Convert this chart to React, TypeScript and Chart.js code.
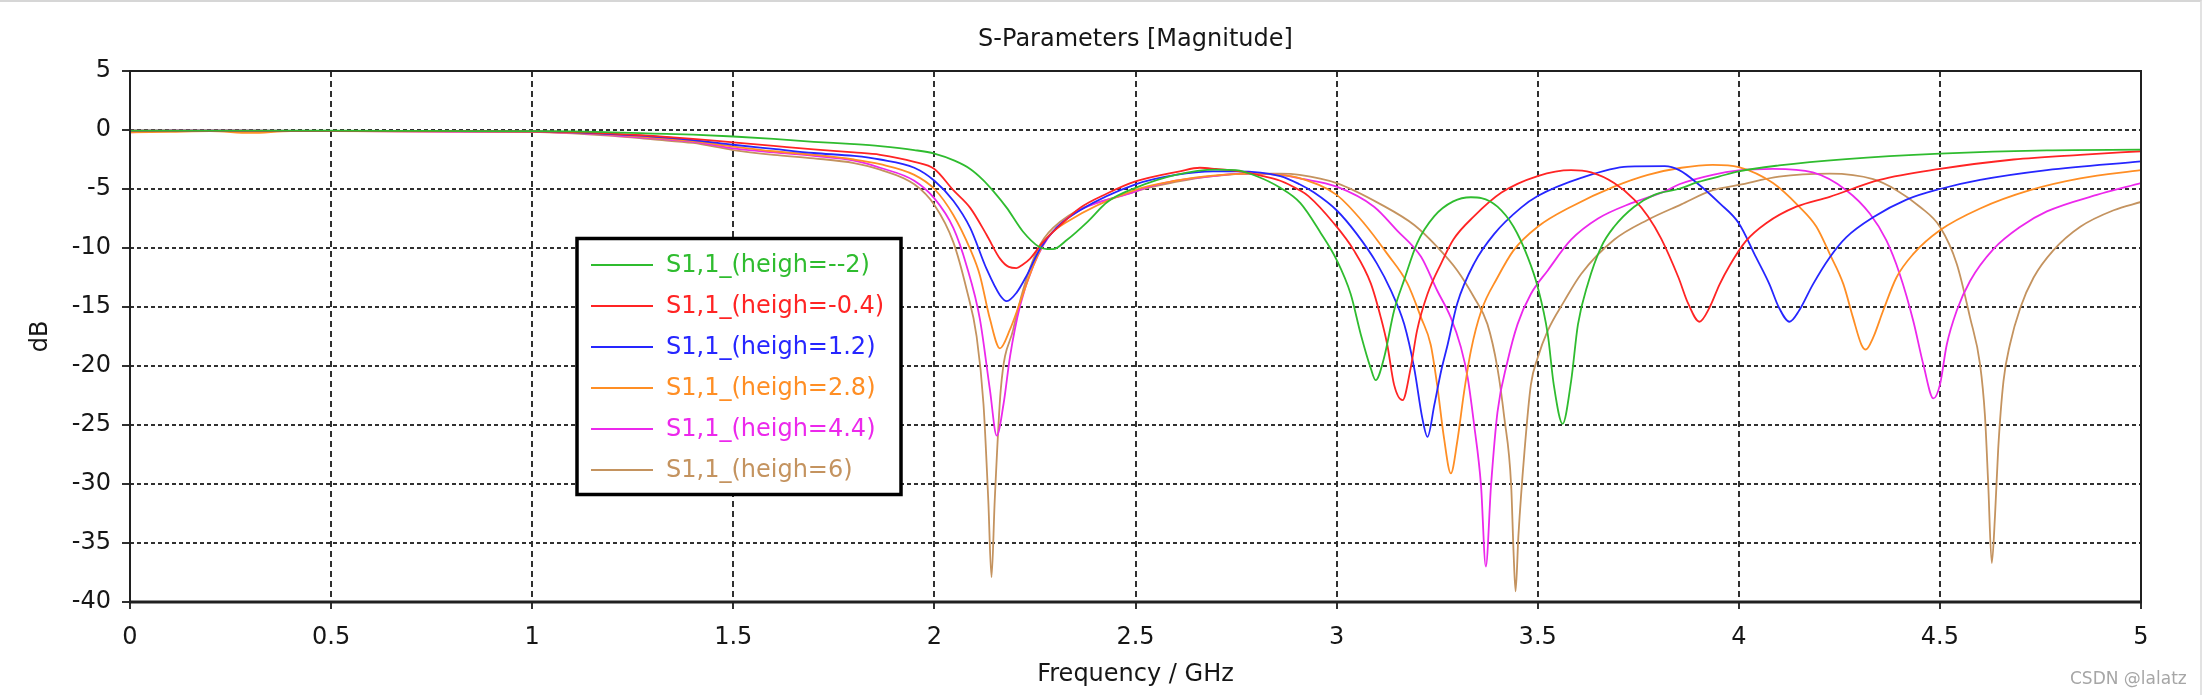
import { useEffect, useRef } from 'react';
import { Chart, registerables } from 'chart.js';

Chart.register(...registerables);

// S11 magnitude (dB), one pair of arrays per "heigh" value
const seriesLabels = [
  'S1,1_(heigh=--2)',
  'S1,1_(heigh=-0.4)',
  'S1,1_(heigh=1.2)',
  'S1,1_(heigh=2.8)',
  'S1,1_(heigh=4.4)',
  'S1,1_(heigh=6)',
];

const freqHm2 = [0, 0.25, 0.5, 0.75, 1.0, 1.1, 1.2, 1.3, 1.4, 1.5, 1.6, 1.7, 1.8, 1.865, 1.95, 2.0, 2.05, 2.089, 2.12, 2.147, 2.18, 2.22, 2.26, 2.28, 2.295, 2.33, 2.38, 2.43, 2.5, 2.6, 2.7, 2.75, 2.8, 2.86, 2.91, 2.96, 3.0, 3.035, 3.06, 3.085, 3.097, 3.118, 3.143, 3.168, 3.2, 3.243, 3.29, 3.334, 3.36, 3.4, 3.44, 3.475, 3.5, 3.525, 3.54, 3.562, 3.583, 3.6, 3.625, 3.658, 3.69, 3.74, 3.79, 3.85, 3.9, 3.95, 4.0, 4.1, 4.267, 4.5, 4.766, 5.0];
const dbHm2 = [-0.05, -0.05, -0.05, -0.08, -0.1, -0.12, -0.2, -0.3, -0.4, -0.55, -0.75, -1.0, -1.2, -1.37, -1.7, -2.0, -2.6, -3.3, -4.2, -5.2, -6.6, -8.6, -9.9, -10.1, -10.1, -9.3, -7.8, -6.1, -4.9, -3.8, -3.35, -3.4, -3.9, -4.9, -6.2, -8.7, -11.0, -13.9, -17.3, -20.2, -21.2, -19.3, -15.3, -12.7, -9.6, -7.3, -6.05, -5.7, -5.77, -6.5, -8.2, -10.75, -13.3, -17.3, -21.6, -24.9, -21.3, -16.5, -13.0, -9.9, -8.2, -6.5, -5.5, -5.0, -4.4, -3.95, -3.5, -3.0, -2.46, -2.0, -1.72, -1.67];

const freqHm04 = [0, 0.25, 0.5, 0.75, 1.0, 1.1, 1.2, 1.3, 1.4, 1.5, 1.6, 1.7, 1.8, 1.865, 1.95, 2.0, 2.047, 2.089, 2.13, 2.163, 2.185, 2.204, 2.22, 2.238, 2.27, 2.312, 2.362, 2.428, 2.5, 2.61, 2.66, 2.7, 2.76, 2.817, 2.86, 2.908, 2.93, 2.993, 3.043, 3.085, 3.11, 3.126, 3.143, 3.164, 3.184, 3.2, 3.226, 3.26, 3.29, 3.342, 3.41, 3.5, 3.583, 3.633, 3.69, 3.74, 3.774, 3.807, 3.85, 3.874, 3.902, 3.927, 3.952, 3.977, 4.018, 4.068, 4.143, 4.226, 4.35, 4.5, 4.683, 4.849, 5.0];
const dbHm04 = [-0.05, -0.05, -0.08, -0.1, -0.12, -0.18, -0.3, -0.5, -0.75, -1.05, -1.35, -1.65, -1.9, -2.1, -2.7, -3.3, -5.1, -6.6, -8.9, -10.9, -11.6, -11.7, -11.4, -10.9, -9.5, -8.1, -6.6, -5.4, -4.36, -3.5, -3.2, -3.3, -3.5, -3.9, -4.3, -5.1, -5.6, -7.9, -10.2, -13.0, -15.9, -18.2, -21.6, -22.9, -20.2, -17.0, -13.9, -11.3, -9.3, -7.3, -5.3, -3.9, -3.4, -3.6, -4.5, -5.9, -7.3, -9.2, -12.5, -14.7, -16.25, -15.06, -13.1, -11.5, -9.4, -7.9, -6.5, -5.66, -4.23, -3.3, -2.5, -2.1, -1.8];

const freqH12 = [0, 0.25, 0.5, 0.75, 1.0, 1.1, 1.2, 1.3, 1.4, 1.5, 1.6, 1.7, 1.8, 1.865, 1.95, 2.0, 2.047, 2.089, 2.13, 2.163, 2.18, 2.204, 2.23, 2.262, 2.303, 2.362, 2.5, 2.6, 2.693, 2.75, 2.86, 2.908, 2.944, 3.0, 3.05, 3.1, 3.135, 3.168, 3.193, 3.213, 3.226, 3.243, 3.26, 3.276, 3.3, 3.342, 3.392, 3.458, 3.5, 3.608, 3.724, 3.816, 3.852, 3.902, 3.952, 4.0, 4.043, 4.076, 4.1, 4.126, 4.15, 4.184, 4.226, 4.267, 4.334, 4.417, 4.5, 4.6, 4.766, 5.0];
const dbH12 = [-0.05, -0.05, -0.08, -0.1, -0.12, -0.2, -0.35, -0.55, -0.85, -1.25, -1.6, -1.95, -2.2, -2.5, -3.2, -4.3, -6.0, -8.3, -11.8, -14.0, -14.5, -13.8, -12.3, -10.1, -8.3, -6.8, -4.6, -3.8, -3.5, -3.5, -3.9, -4.6, -5.3, -6.8, -8.8, -11.3, -13.6, -16.45, -20.2, -24.4, -26.0, -23.3, -20.4, -18.2, -14.7, -11.3, -8.8, -6.6, -5.6, -4.06, -3.1, -3.06, -3.4, -4.66, -6.2, -7.9, -10.8, -13.06, -15.06, -16.25, -15.3, -13.1, -10.8, -9.1, -7.4, -5.9, -5.0, -4.23, -3.4, -2.66];

const freqH28 = [0, 0.1, 0.2, 0.3, 0.4, 0.5, 0.75, 1.0, 1.1, 1.2, 1.3, 1.4, 1.5, 1.6, 1.7, 1.8, 1.865, 1.95, 2.0, 2.047, 2.089, 2.113, 2.138, 2.163, 2.188, 2.213, 2.246, 2.279, 2.329, 2.5, 2.6, 2.7, 2.78, 2.86, 2.91, 3.0, 3.068, 3.126, 3.176, 3.21, 3.234, 3.25, 3.267, 3.284, 3.3, 3.317, 3.334, 3.36, 3.4, 3.44, 3.5, 3.583, 3.69, 3.774, 3.857, 3.935, 4.0, 4.085, 4.15, 4.193, 4.226, 4.26, 4.284, 4.305, 4.316, 4.334, 4.359, 4.392, 4.434, 4.5, 4.6, 4.724, 4.849, 5.0];
const dbH28 = [-0.2, -0.15, -0.1, -0.25, -0.1, -0.1, -0.12, -0.15, -0.22, -0.4, -0.65, -0.95, -1.4, -1.8, -2.1, -2.5, -2.9, -3.8, -5.0, -7.2, -10.1, -12.3, -16.0, -18.5, -16.9, -14.6, -11.5, -9.2, -7.8, -5.07, -4.3, -3.85, -3.7, -3.8, -4.1, -5.5, -7.9, -10.5, -13.0, -15.9, -18.2, -21.6, -26.1, -29.1, -26.4, -22.2, -18.7, -15.3, -12.5, -10.2, -8.2, -6.5, -4.8, -3.8, -3.2, -2.95, -3.15, -4.5, -6.5, -8.2, -10.5, -13.06, -15.9, -18.2, -18.6, -17.6, -15.3, -12.5, -10.5, -8.5, -6.65, -5.1, -4.1, -3.4];

const freqH44 = [0, 0.05, 0.1, 0.5, 0.8, 1.0, 1.1, 1.2, 1.3, 1.4, 1.5, 1.6, 1.7, 1.8, 1.865, 1.95, 2.0, 2.047, 2.08, 2.113, 2.138, 2.155, 2.172, 2.188, 2.213, 2.246, 2.295, 2.5, 2.6, 2.693, 2.76, 2.86, 2.908, 3.0, 3.093, 3.15, 3.21, 3.25, 3.284, 3.309, 3.326, 3.342, 3.359, 3.371, 3.384, 3.4, 3.425, 3.45, 3.483, 3.525, 3.583, 3.65, 3.733, 3.816, 3.852, 3.935, 4.0, 4.085, 4.184, 4.267, 4.326, 4.367, 4.4, 4.434, 4.459, 4.484, 4.5, 4.517, 4.542, 4.575, 4.633, 4.7, 4.766, 4.89, 5.0];
const dbH44 = [-0.2, -0.15, -0.05, -0.08, -0.15, -0.15, -0.25, -0.45, -0.7, -1.0, -1.55, -1.9, -2.2, -2.6, -3.2, -4.3, -5.8, -8.3, -11.5, -16.0, -22.0, -25.9, -23.2, -19.2, -14.9, -11.5, -8.6, -5.2, -4.3, -3.9, -3.7, -3.8, -4.1, -4.8, -6.5, -8.5, -10.75, -13.6, -15.9, -18.4, -21.0, -25.0, -30.1, -37.0, -30.1, -23.9, -19.6, -16.45, -13.9, -11.9, -9.3, -7.5, -6.2, -5.2, -4.6, -3.8, -3.43, -3.3, -3.6, -5.1, -7.1, -9.36, -12.2, -16.2, -19.9, -22.75, -21.6, -18.2, -15.3, -12.8, -10.1, -8.2, -6.9, -5.5, -4.5];

const freqH6 = [0, 0.5, 1.0, 1.1, 1.2, 1.3, 1.4, 1.5, 1.6, 1.7, 1.8, 1.865, 1.95, 2.0, 2.047, 2.08, 2.105, 2.122, 2.134, 2.142, 2.15, 2.165, 2.196, 2.221, 2.254, 2.295, 2.5, 2.6, 2.693, 2.8, 2.86, 2.908, 3.0, 3.11, 3.193, 3.25, 3.3, 3.342, 3.375, 3.4, 3.417, 3.434, 3.44, 3.445, 3.452, 3.467, 3.483, 3.5, 3.525, 3.566, 3.608, 3.69, 3.774, 3.857, 3.935, 4.0, 4.1, 4.226, 4.334, 4.392, 4.45, 4.5, 4.542, 4.575, 4.6, 4.612, 4.62, 4.629, 4.637, 4.645, 4.658, 4.674, 4.7, 4.733, 4.782, 4.849, 4.932, 5.0];
const dbH6 = [-0.1, -0.08, -0.15, -0.28, -0.5, -0.8, -1.1, -1.7, -2.1, -2.4, -2.8, -3.36, -4.6, -6.35, -9.5, -13.5, -17.5, -23.2, -31.4, -37.9, -31.4, -22.0, -16.9, -13.5, -10.3, -8.3, -5.2, -4.4, -3.9, -3.7, -3.7, -3.8, -4.5, -6.3, -8.05, -9.9, -11.9, -14.2, -16.45, -20.2, -24.4, -30.1, -35.8, -39.1, -34.4, -27.3, -21.6, -19.3, -17.0, -14.5, -12.2, -9.3, -7.6, -6.3, -5.1, -4.66, -3.95, -3.7, -4.17, -5.1, -6.5, -8.2, -11.35, -15.9, -19.9, -24.2, -29.9, -36.7, -32.7, -27.0, -21.3, -18.2, -15.06, -12.5, -10.2, -8.2, -6.8, -6.1];

const freqTicks = [0, 0.5, 1, 1.5, 2, 2.5, 3, 3.5, 4, 4.5, 5];
const dbTicks = [5, 0, -5, -10, -15, -20, -25, -30, -35, -40];

const seriesFreqs = [freqHm2, freqHm04, freqH12, freqH28, freqH44, freqH6];
const seriesDbs = [dbHm2, dbHm04, dbH12, dbH28, dbH44, dbH6];

// styling
const seriesColors = ['#2fbc2f', '#ff2424', '#2626ff', '#ff8e24', '#ec28ec', '#c4935f'];
const FONT = 'DejaVu Sans';
const INK = '#161616';

// box drawn inside the plot, like the CST legend
const legendPlugin = {
  id: 'cstLegend',
  afterDatasetsDraw(chart: any) {
    const { ctx, chartArea } = chart;
    const bx = chartArea.left + 447;
    const by = chartArea.top + 167.5;
    const bw = 324;
    const bh = 256;
    ctx.save();
    ctx.fillStyle = '#ffffff';
    ctx.fillRect(bx, by, bw, bh);
    ctx.strokeStyle = '#000000';
    ctx.lineWidth = 3.5;
    ctx.strokeRect(bx, by, bw, bh);
    ctx.font = `24px "${FONT}"`;
    ctx.textBaseline = 'middle';
    ctx.textAlign = 'left';
    chart.data.datasets.forEach((ds: any, i: number) => {
      const y = by + 26.5 + i * 41;
      ctx.strokeStyle = ds.borderColor;
      ctx.lineWidth = 2;
      ctx.beginPath();
      ctx.moveTo(bx + 14, y);
      ctx.lineTo(bx + 76, y);
      ctx.stroke();
      ctx.fillStyle = ds.borderColor;
      ctx.fillText(ds.label, bx + 89, y + 1);
    });
    ctx.restore();
  },
  afterDraw(chart: any) {
    const { ctx, chartArea: { left, top, right, bottom } } = chart;
    ctx.save();
    ctx.strokeStyle = '#202020';
    ctx.lineWidth = 2;
    ctx.beginPath();
    ctx.moveTo(left, bottom);
    ctx.lineTo(left, top);
    ctx.lineTo(right, top);
    ctx.lineTo(right, bottom);
    ctx.stroke();
    ctx.lineWidth = 3;
    ctx.beginPath();
    ctx.moveTo(left - 1, bottom);
    ctx.lineTo(right + 1, bottom);
    ctx.stroke();
    ctx.restore();
  },
};

function SParamChart() {
  const canvasRef = useRef<HTMLCanvasElement>(null);

  useEffect(() => {
    if (canvasRef.current === null) return;
    const chart = new Chart(canvasRef.current, {
      type: 'line',
      data: {
        datasets: seriesLabels.map((label, i) => ({
          label,
          data: seriesFreqs[i].map((f, j) => ({ x: f, y: seriesDbs[i][j] })),
          borderColor: seriesColors[i],
          backgroundColor: seriesColors[i],
          borderWidth: 1.8,
          pointRadius: 0,
          cubicInterpolationMode: 'monotone' as const,
          fill: false,
        })),
      },
      options: {
        animation: false,
        responsive: true,
        maintainAspectRatio: false,
        layout: { padding: { left: 0, right: 63, top: 0, bottom: 0 } },
        plugins: {
          legend: { display: false },
          tooltip: { enabled: false },
          title: {
            display: true,
            text: 'S-Parameters [Magnitude]',
            fullSize: false,
            color: INK,
            font: { family: FONT, size: 24, weight: 'normal' },
            padding: { top: 25.6, bottom: 16.6 },
          },
        },
        scales: {
          x: {
            type: 'linear',
            min: 0,
            max: 5,
            afterBuildTicks: (scale: any) => {
              scale.ticks = freqTicks.map((v) => ({ value: v }));
            },
            afterFit: (scale: any) => {
              scale.height = 93;
            },
            ticks: {
              color: INK,
              font: { family: FONT, size: 24 },
              padding: 14,
              maxRotation: 0,
              autoSkip: false,
              callback: (v: any) => String(v),
            },
            grid: { color: '#303030', lineWidth: 2, tickLength: 7, tickColor: '#303030' },
            border: { display: false, dash: [6, 4] },
            title: {
              display: true,
              text: 'Frequency / GHz',
              color: INK,
              font: { family: FONT, size: 24 },
              padding: { top: 0, bottom: 5.6 },
            },
          },
          y: {
            type: 'linear',
            min: -40,
            max: 5,
            afterBuildTicks: (scale: any) => {
              scale.ticks = dbTicks.map((v) => ({ value: v }));
            },
            afterFit: (scale: any) => {
              scale.width = 130;
            },
            ticks: {
              color: INK,
              font: { family: FONT, size: 24 },
              padding: 11,
              autoSkip: false,
              callback: (v: any) => String(v),
            },
            grid: { color: '#303030', lineWidth: 2, tickLength: 8, tickColor: '#303030' },
            border: { display: false, dash: [4, 3] },
            title: {
              display: true,
              text: 'dB',
              color: INK,
              font: { family: FONT, size: 24 },
              padding: { top: 26, bottom: 0 },
            },
          },
        },
      },
      plugins: [legendPlugin],
    });

    return () => {
      chart.destroy();
    };
  }, []);

  return (
    <div style={{ position: 'absolute', left: 0, top: 0, width: 2204, height: 695, background: '#ffffff' }}>
      <canvas ref={canvasRef}></canvas>
      <div
        style={{
          position: 'absolute',
          left: 0,
          top: 0,
          width: 2202,
          height: 695,
          boxSizing: 'border-box',
          borderTop: '2px solid #d6d6d6',
          borderRight: '2px solid #e2e2e2',
          pointerEvents: 'none',
        }}
      />
      <div
        style={{
          position: 'absolute',
          left: 2070,
          top: 667,
          fontFamily: FONT,
          fontSize: 17,
          lineHeight: '22px',
          color: '#a6a6a6',
          whiteSpace: 'nowrap',
        }}
      >
        CSDN @lalatz
      </div>
    </div>
  );
}

export default function App() {
  return <SParamChart />;
}
